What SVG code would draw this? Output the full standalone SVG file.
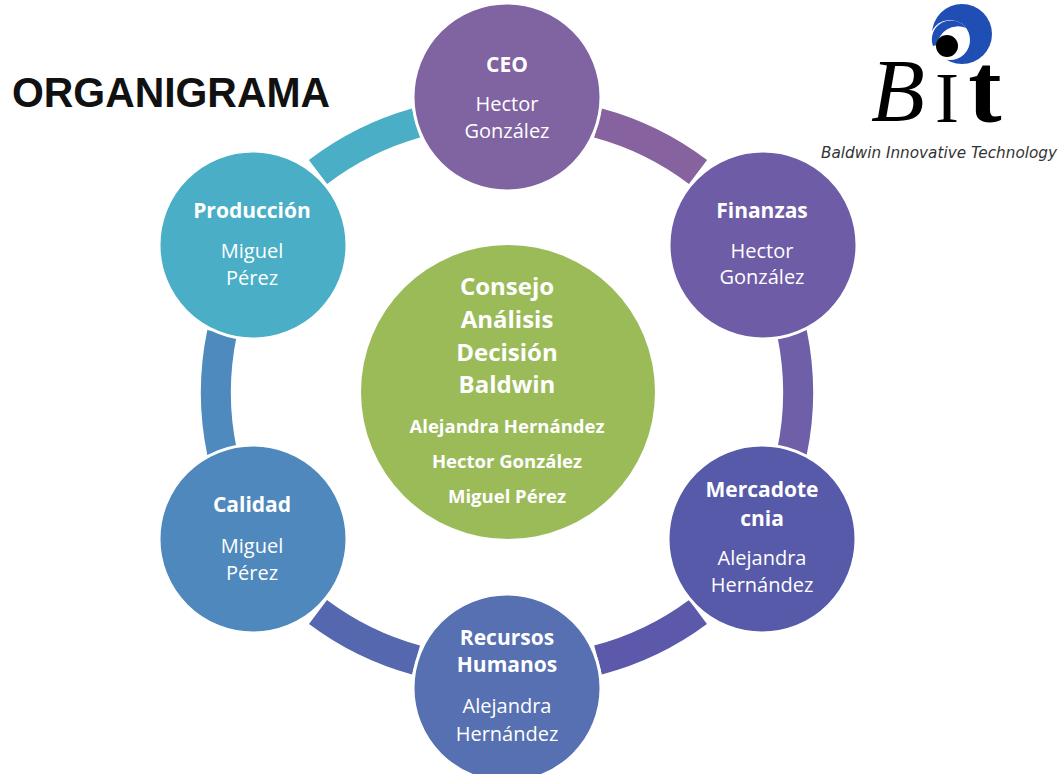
<svg xmlns="http://www.w3.org/2000/svg" width="1064" height="774" viewBox="0 0 1064 774">
<defs>
<style>
text{font-family:"Open Sans","Noto Sans","Liberation Sans",sans-serif;fill:#fff;text-anchor:middle}
.t{font-weight:700;font-size:21px}
.n{font-size:20px}
.c{font-weight:700;font-size:24px}
.m{font-weight:700;font-size:18.5px}
.node{stroke:#fff;stroke-width:3}
#connectors path{fill:none;stroke-width:30}
</style>
</defs>
<rect width="1064" height="774" fill="#fff"/>
<g id="connectors">
<path d="M598 123A292 292 0 0 1 698 172" stroke="#86629f"/>
<path d="M792 333A292 292 0 0 1 792 452" stroke="#6f5ea8"/>
<path d="M698 612A292 292 0 0 1 598 660" stroke="#5c58aa"/>
<path d="M416 660A292 292 0 0 1 318 612" stroke="#5567ae"/>
<path d="M222 452A292 292 0 0 1 222 333" stroke="#4f8abf"/>
<path d="M318 172A292 292 0 0 1 416 123" stroke="#49aec6"/>
</g>
<g id="ceo"><circle class="node" cx="507" cy="97" r="94" fill="#8063a1"/><text class="t" x="507" y="72">CEO</text><text class="n" x="507" y="111">Hector</text><text class="n" x="507" y="138">González</text></g>
<g id="finanzas"><circle class="node" cx="763" cy="245" r="94" fill="#6e5ca7"/><text class="t" x="762" y="218">Finanzas</text><text class="n" x="762" y="258">Hector</text><text class="n" x="762" y="284">González</text></g>
<g id="mercadotecnia"><circle class="node" cx="762" cy="539" r="94" fill="#5759a9"/><text class="t" x="762" y="497">Mercadote</text><text class="t" x="762" y="526">cnia</text><text class="n" x="762" y="565">Alejandra</text><text class="n" x="762" y="592">Hernández</text></g>
<g id="recursos"><circle class="node" cx="507" cy="688" r="94" fill="#5670b1"/><text class="t" x="507" y="645">Recursos</text><text class="t" x="507" y="672">Humanos</text><text class="n" x="507" y="713">Alejandra</text><text class="n" x="507" y="741">Hernández</text></g>
<g id="calidad"><circle class="node" cx="253" cy="539" r="94" fill="#4f88bd"/><text class="t" x="252" y="512">Calidad</text><text class="n" x="252" y="553">Miguel</text><text class="n" x="252" y="580">Pérez</text></g>
<g id="produccion"><circle class="node" cx="253" cy="245" r="94" fill="#49aec6"/><text class="t" x="252" y="218">Producción</text><text class="n" x="252" y="258">Miguel</text><text class="n" x="252" y="285">Pérez</text></g>
<g id="consejo"><circle cx="508" cy="392" r="147" fill="#9bbb59"/><text class="c" x="507" y="295">Consejo</text><text class="c" x="507" y="328">Análisis</text><text class="c" x="507" y="361">Decisión</text><text class="c" x="507" y="393">Baldwin</text><text class="m" x="507" y="433">Alejandra Hernández</text><text class="m" x="507" y="468" font-size="16">Hector González</text><text class="m" x="507" y="503">Miguel Pérez</text></g>
<text id="title" x="171" y="107" style="fill:#111;font-family:'Liberation Sans',sans-serif;font-weight:700;font-size:42px" textLength="318" lengthAdjust="spacingAndGlyphs">ORGANIGRAMA</text>
<g id="logo">
<circle cx="962" cy="34" r="30" fill="#1f4fb5"/>
<circle cx="950" cy="40" r="20" fill="#fff"/>
<path d="M933 46A19 19 0 0 1 966 28A21 21 0 0 0 937 45Z" fill="#1f4fb5"/>
<circle cx="947" cy="46" r="11" fill="#000"/>
<text x="898" y="120" style="fill:#000;font-family:'Liberation Serif',serif;font-style:italic;font-size:88px">B</text>
<text x="947" y="122" style="fill:#000;font-family:'Liberation Serif',serif;font-size:72px">I</text>
<text x="985" y="122" style="fill:#000;font-family:'Liberation Serif',serif;font-weight:700;font-size:100px">t</text>
<text x="939" y="158" style="fill:#333;font-family:'DejaVu Sans',sans-serif;font-style:italic;font-size:15px" textLength="236" lengthAdjust="spacingAndGlyphs">Baldwin Innovative Technology</text>
</g>
</svg>
